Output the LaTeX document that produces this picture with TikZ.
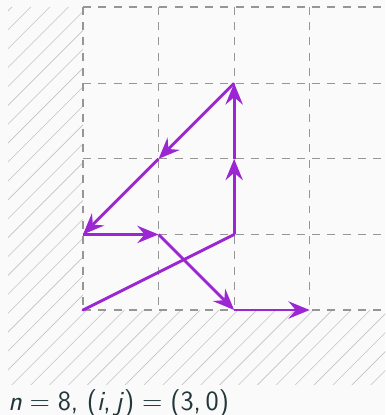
\documentclass[tikz,border=0pt]{standalone}
\usetikzlibrary{arrows.meta}
\definecolor{bgc}{RGB}{250,250,250}
\definecolor{hatchc}{RGB}{195,195,195}
\definecolor{gridc}{RGB}{150,150,150}
\definecolor{pathc}{RGB}{157,38,212}
\definecolor{txtc}{RGB}{35,55,59}
\tikzset{
  hatchline/.style={hatchc, line width=0.45pt},
  gridline/.style={gridc, line width=0.9pt, dash pattern=on 6pt off 5.5pt},
  move/.style={pathc, line width=2.2pt, -{Stealth[length=16pt,width=13pt,inset=5.5pt]}},
  plain/.style={pathc, line width=2.2pt},
  caption/.style={anchor=base west, inner sep=0pt, text=txtc, font=\fontsize{21}{25}\selectfont\sffamily}
}
\begin{document}
\begin{tikzpicture}[x=2cm,y=2cm]
\useasboundingbox (-1.098,-1.389) rectangle (4.0,4.102);
\fill[bgc] (-1.098,-1.389) rectangle (4.0,4.102);
% hatched forbidden region
\begin{scope}
  \clip (-0.992,4.01) -- (0,4.01) -- (0,0) -- (4.0,0) -- (4.0,-0.992) -- (-0.992,-0.992) -- cycle;
  \foreach \i in {0,...,46} {
    \pgfmathsetmacro{\c}{-5.2+0.25*\i}
    \draw[hatchline] (\c-2,-2) -- (\c+5,5);
  }
\end{scope}
% grid
\foreach \y in {0,1,2,3,4.01} \draw[gridline] (0,\y) -- (4.0,\y);
\foreach \x in {0,1,2,3} \draw[gridline] (\x,4.01) -- (\x,0);
% lattice points
\coordinate (p00) at (0,0);
\coordinate (p21) at (2,1);
\coordinate (p22) at (2,2);
\coordinate (p23) at (2,3);
\coordinate (p12) at (1,2);
\coordinate (p01) at (0,1);
\coordinate (p11) at (1,1);
\coordinate (p20) at (2,0);
\coordinate (p30) at (3,0);
\draw[plain, line cap=round] (p00) -- (p21);
\draw[move] (p21) -- (p22);
\draw[move] (p22) -- (p23);
\draw[move] (p23) -- (p12);
\draw[move] (p12) -- (p01);
\draw[move] (p01) -- (p11);
\draw[move] (p11) -- (p20);
\draw[move] (p20) -- (p30);
\node[caption] (cap) at (-0.992,-1.323) {\textit{n}\hspace{0.28em}=\hspace{0.28em}8, (\textit{i},\hspace{0.17em}\textit{j})\hspace{0.28em}=\hspace{0.28em}(3,\hspace{0.17em}0)};
\end{tikzpicture}
\end{document}
